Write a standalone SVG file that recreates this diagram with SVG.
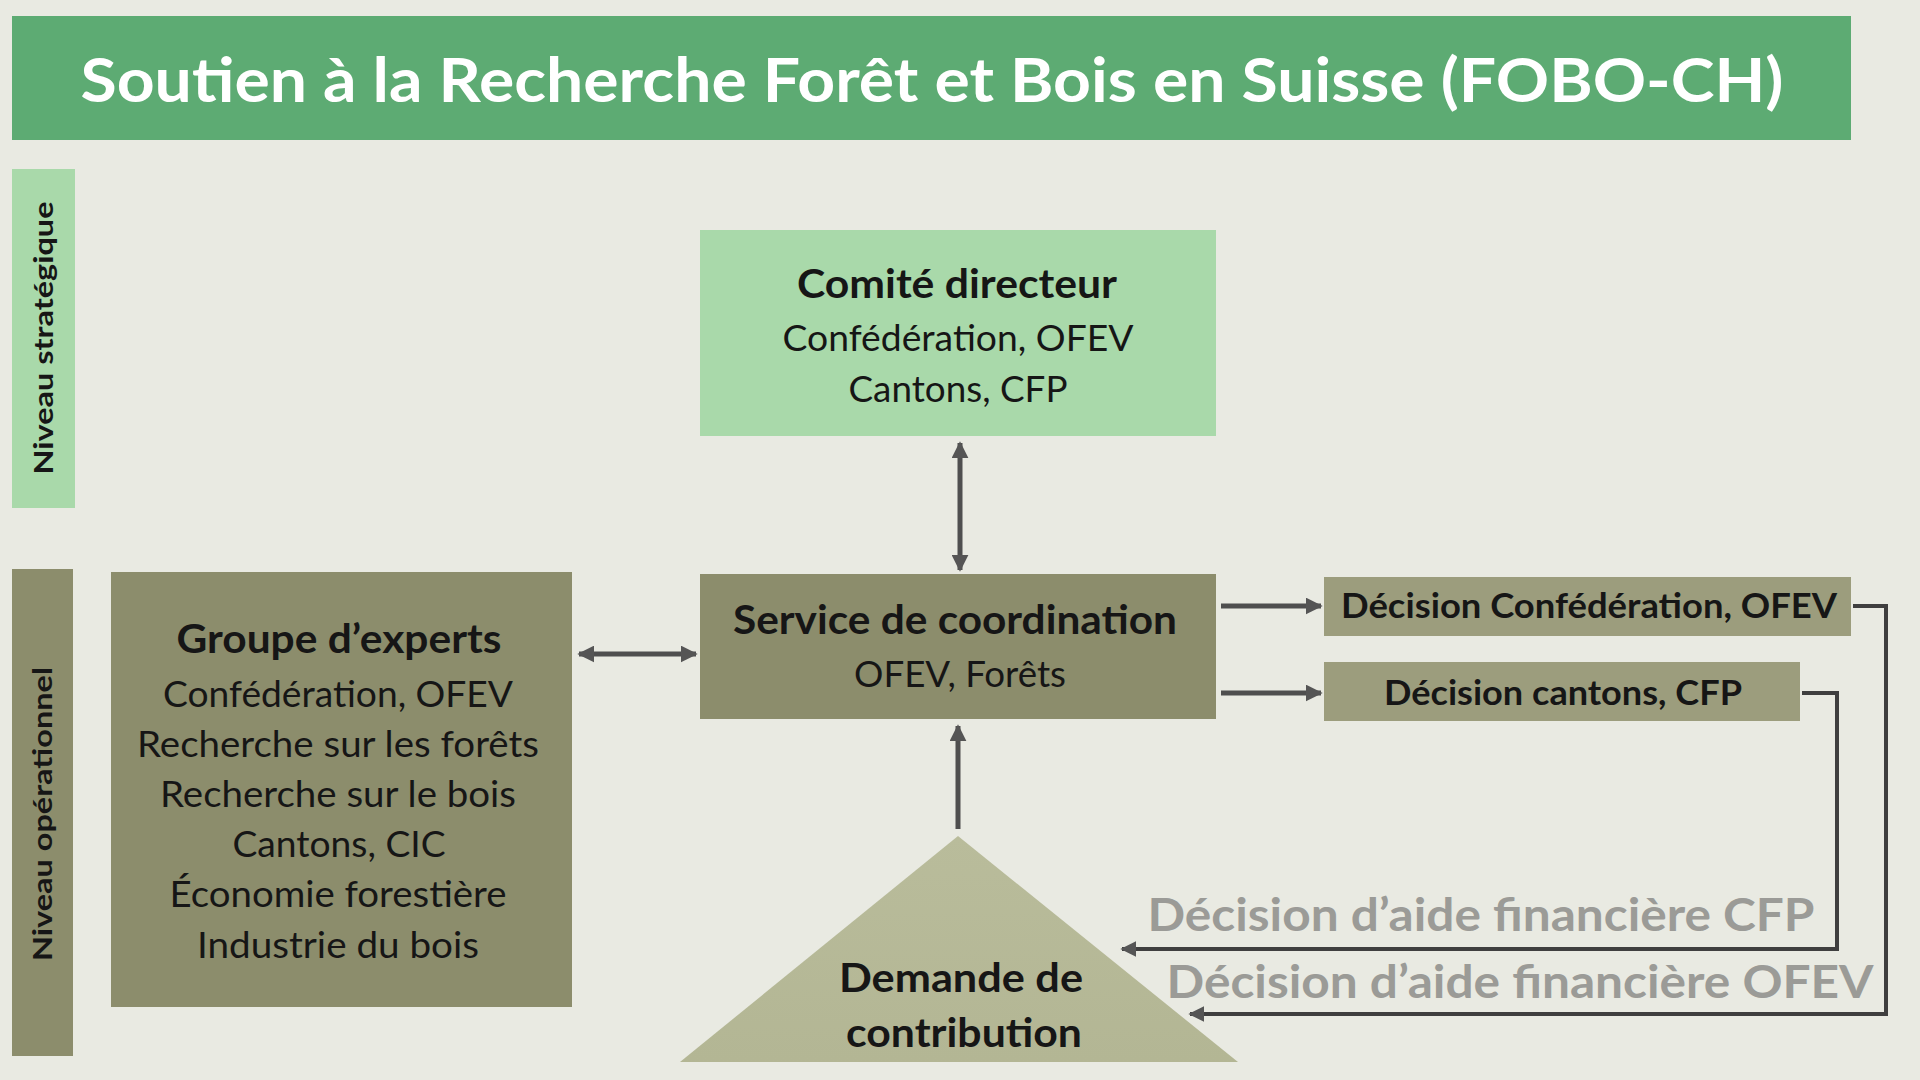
<svg xmlns="http://www.w3.org/2000/svg" width="1920" height="1080" viewBox="0 0 1920 1080">
<defs>
<style>
.t{font-family:Lato,"Open Sans","Liberation Sans",sans-serif;fill:#161616;text-anchor:middle}
.b{font-weight:700}
.h{font-size:40px;font-weight:700}
.n{font-size:36px}
.d{font-size:35px;font-weight:700}
.g{font-size:45px;font-weight:700;fill:#9b9b97}
.v{font-size:26px;font-weight:700}
.olive{fill:#8c8d6c}
.olive2{fill:#9c9d7d}
.lg{fill:#a9d9aa}
.c{stroke:#4f4f4f;stroke-width:5;fill:none}
.f{stroke:#3f3f3f;stroke-width:4;fill:none}
</style>
<marker id="ah" viewBox="0 0 10 10" refX="9" refY="5" markerWidth="3.4" markerHeight="3.4" orient="auto-start-reverse" markerUnits="strokeWidth"><path d="M0,0 L10,5 L0,10 z" fill="#555"/></marker>
<marker id="ah2" viewBox="0 0 10 10" refX="9" refY="5" markerWidth="4" markerHeight="4" orient="auto-start-reverse" markerUnits="strokeWidth"><path d="M0,0 L10,5 L0,10 z" fill="#555"/></marker>
<linearGradient id="tri" x1="0" y1="0" x2="0" y2="1"><stop offset="0" stop-color="#b9bc9b"/><stop offset="1" stop-color="#b3b694"/></linearGradient>
</defs>
<rect x="0" y="0" width="1920" height="1080" fill="#e9eae2"/>

<g id="title">
<rect x="12" y="16" width="1839" height="124" fill="#5dab73"/>
<text class="t b" x="932" y="102" font-size="62" style="fill:#fff" textLength="1703" lengthAdjust="spacingAndGlyphs">Soutien à la Recherche Forêt et Bois en Suisse (FOBO-CH)</text>
</g>

<g id="niveau-strategique">
<rect x="12" y="169" width="63" height="339" class="lg"/>
<text class="t v" transform="translate(53,338) rotate(-90)" textLength="273" lengthAdjust="spacingAndGlyphs">Niveau stratégique</text>
</g>

<g id="niveau-operationnel">
<rect x="12" y="569" width="61" height="487" class="olive"/>
<text class="t v" transform="translate(52,814) rotate(-90)" textLength="294" lengthAdjust="spacingAndGlyphs">Niveau opérationnel</text>
</g>

<g id="comite-directeur">
<rect x="700" y="230" width="516" height="206" class="lg"/>
<text class="t h" x="957" y="298" textLength="320" lengthAdjust="spacingAndGlyphs">Comité directeur</text>
<text class="t n" x="958" y="351" textLength="351" lengthAdjust="spacingAndGlyphs">Confédération, OFEV</text>
<text class="t n" x="958" y="402" textLength="219" lengthAdjust="spacingAndGlyphs">Cantons, CFP</text>
</g>

<g id="service-coordination">
<rect x="700" y="574" width="516" height="145" class="olive"/>
<text class="t h" x="955" y="634" textLength="444" lengthAdjust="spacingAndGlyphs">Service de coordination</text>
<text class="t n" x="960" y="687" textLength="212" lengthAdjust="spacingAndGlyphs">OFEV, Forêts</text>
</g>

<g id="groupe-experts">
<rect x="111" y="572" width="461" height="435" class="olive"/>
<text class="t h" x="339" y="653" textLength="325" lengthAdjust="spacingAndGlyphs">Groupe d’experts</text>
<text class="t n" x="338" y="707" textLength="350" lengthAdjust="spacingAndGlyphs">Confédération, OFEV</text>
<text class="t n" x="338" y="757" textLength="402" lengthAdjust="spacingAndGlyphs">Recherche sur les forêts</text>
<text class="t n" x="338" y="807" textLength="356" lengthAdjust="spacingAndGlyphs">Recherche sur le bois</text>
<text class="t n" x="339" y="857" textLength="213" lengthAdjust="spacingAndGlyphs">Cantons, CIC</text>
<text class="t n" x="338" y="907" textLength="337" lengthAdjust="spacingAndGlyphs">Économie forestière</text>
<text class="t n" x="338" y="958" textLength="282" lengthAdjust="spacingAndGlyphs">Industrie du bois</text>
</g>

<g id="decision-confederation">
<rect x="1324" y="577" width="527" height="59" class="olive2"/>
<text class="t d" x="1589" y="618" textLength="496" lengthAdjust="spacingAndGlyphs">Décision Confédération, OFEV</text>
</g>

<g id="decision-cantons">
<rect x="1324" y="662" width="476" height="59" class="olive2"/>
<text class="t d" x="1563" y="705" textLength="358" lengthAdjust="spacingAndGlyphs">Décision cantons, CFP</text>
</g>

<g id="demande-contribution">
<polygon points="958,836 1238,1062 680,1062" fill="url(#tri)"/>
<text class="t h" x="961" y="992" textLength="244" lengthAdjust="spacingAndGlyphs">Demande de</text>
<text class="t h" x="964" y="1047" textLength="236" lengthAdjust="spacingAndGlyphs">contribution</text>
</g>

<g id="connectors">
<line class="c" x1="960" y1="443" x2="960" y2="570" marker-start="url(#ah)" marker-end="url(#ah)"/>
<line class="c" x1="579" y1="654" x2="696" y2="654" marker-start="url(#ah)" marker-end="url(#ah)"/>
<line class="c" x1="958" y1="829" x2="958" y2="726" marker-end="url(#ah)"/>
<line class="c" x1="1221" y1="606" x2="1321" y2="606" marker-end="url(#ah)"/>
<line class="c" x1="1221" y1="693" x2="1321" y2="693" marker-end="url(#ah)"/>
<path class="f" d="M1853,606 H1886 V1014 H1190" marker-end="url(#ah2)"/>
<path class="f" d="M1802,693 H1837 V949 H1122" marker-end="url(#ah2)"/>
<text class="t g" x="1481" y="931" textLength="667" lengthAdjust="spacingAndGlyphs">Décision d’aide financière CFP</text>
<text class="t g" x="1520" y="998" textLength="707" lengthAdjust="spacingAndGlyphs">Décision d’aide financière OFEV</text>
</g>
</svg>
